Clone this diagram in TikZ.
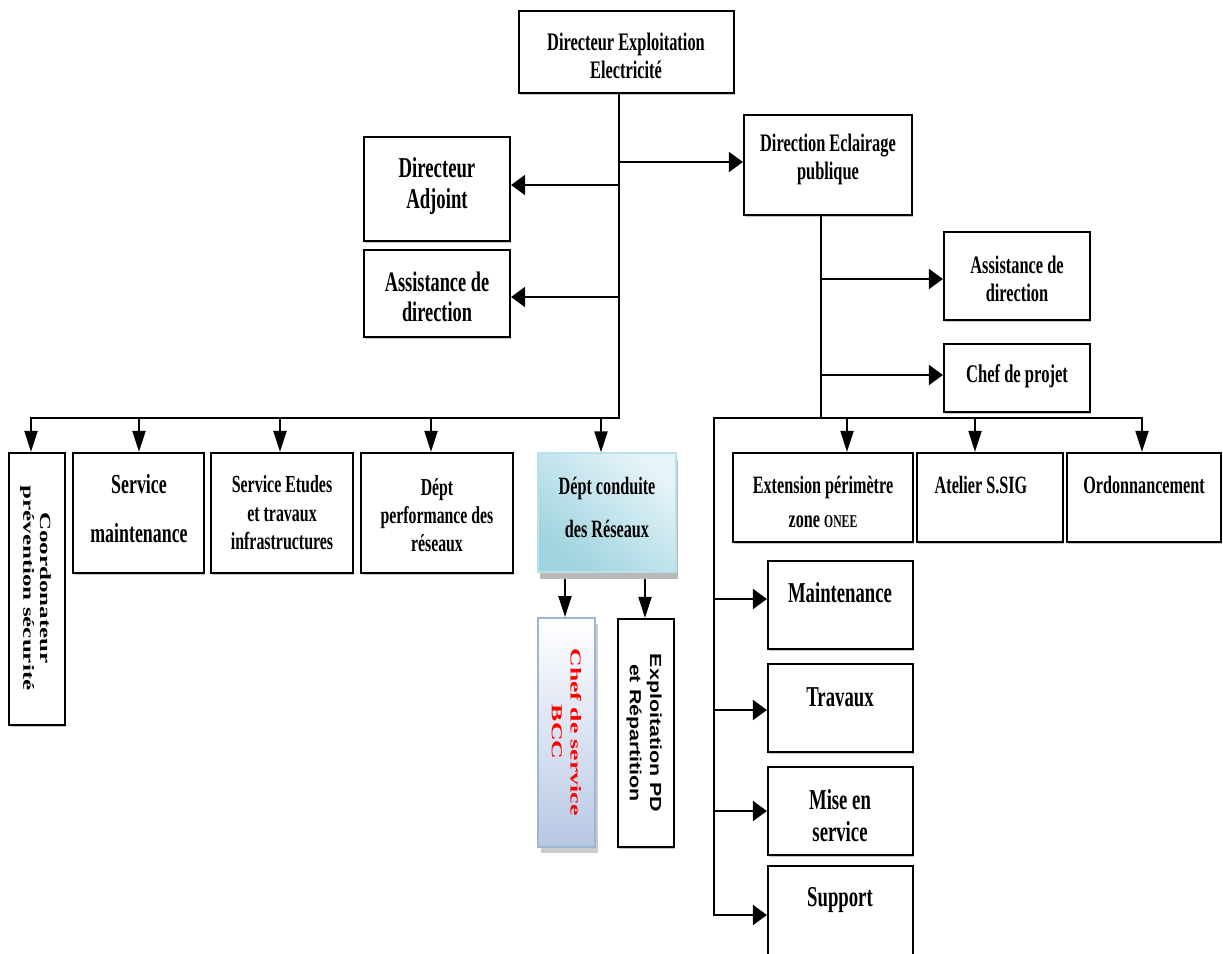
\documentclass[tikz,border=0pt]{standalone}
\usepackage{fontspec}
\usepackage{graphicx}
\usetikzlibrary{arrows.meta,shadows}
\newfontfamily\tnr[FakeStretch=0.65]{Liberation Serif}
\newfontfamily\tnrv{Liberation Serif}
\newfontfamily\arl{Liberation Sans}
\newcommand\fz[2]{\fontsize{#1}{#2}\selectfont}
\definecolor{condin}{HTML}{E6F4F8}
\definecolor{condout}{HTML}{9ED3DF}
\definecolor{bccbot}{HTML}{B7C8E4}
\definecolor{bccdraw}{HTML}{9DB6D8}
\begin{document}
\begin{tikzpicture}[x=1pt,y=-1pt,
  box/.style={draw=black, line width=2.2pt, fill=white, inner sep=0pt,
    drop shadow={shadow xshift=1pt, shadow yshift=-2pt, fill=gray!45, opacity=1}},
  txt/.style={align=center, inner sep=0pt, text=black},
  ln/.style={line width=2pt, draw=black},
  harr/.style={ln, -{Triangle[length=14pt,width=20pt]}},
  varr/.style={ln, -{Triangle[length=21pt,width=13pt]}}]
\useasboundingbox (0,0) rectangle (1223,953);
\clip (0,0) rectangle (1223,953);
\fill[white] (0,0) rectangle (1223,953);

% ---------- boxes ----------
\node[box, minimum width=215pt, minimum height=82pt] (top) at (626.5,52) {};
\node[box, minimum width=146pt, minimum height=104pt] (adj) at (437,189) {};
\node[box, minimum width=146pt, minimum height=87pt] (asl) at (437,293.5) {};
\node[box, minimum width=168pt, minimum height=100pt] (dir) at (828,165) {};
\node[box, minimum width=146pt, minimum height=88pt] (asr) at (1017,276) {};
\node[box, minimum width=146pt, minimum height=68pt] (chef) at (1017,378) {};
\node[box, minimum width=56pt, minimum height=272pt] (coord) at (37,589) {};
\node[box, minimum width=131pt, minimum height=120pt] (smaint) at (138.5,513) {};
\node[box, minimum width=142pt, minimum height=120pt] (setud) at (282,513) {};
\node[box, minimum width=152pt, minimum height=120pt] (dperf) at (437,513) {};
\node[draw=condout!70!white, line width=1.2pt, inner sep=0pt,
  top color=condin, bottom color=condout, shading angle=-40,
  minimum width=138pt, minimum height=119pt,
  drop shadow={shadow xshift=2pt, shadow yshift=-7pt, fill=gray!55, opacity=1}] (dcond) at (607,512.5) {};
\node[draw=bccdraw, line width=2pt, inner sep=0pt, top color=white, bottom color=bccbot,
  minimum width=57pt, minimum height=229pt,
  drop shadow={shadow xshift=3pt, shadow yshift=-6pt, fill=gray!40, opacity=1}] (bcc) at (566.5,732.5) {};
\node[box, minimum width=56pt, minimum height=228pt] (expl) at (646,733) {};
\node[box, minimum width=180pt, minimum height=89pt] (ext) at (823,497.5) {};
\node[box, minimum width=146pt, minimum height=89pt] (atel) at (990,497.5) {};
\node[box, minimum width=154pt, minimum height=89pt] (ordo) at (1144,497.5) {};
\node[box, minimum width=145pt, minimum height=88pt] (maint) at (840.5,605) {};
\node[box, minimum width=145pt, minimum height=88pt] (trav) at (840.5,708) {};
\node[box, minimum width=145pt, minimum height=88pt] (mise) at (840.5,811) {};
\node[box, minimum width=145pt, minimum height=104pt] (supp) at (840.5,918) {};

% ---------- texts ----------
\node[txt, font=\tnr\bfseries\fz{25.2}{28}] (top-t) at (626,56) {Directeur Exploitation\\Electricité};
\node[txt, font=\tnr\bfseries\fz{28.8}{31}] (adj-t) at (437,186) {Directeur\\Adjoint};
\node[txt, font=\tnr\bfseries\fz{28.2}{30}] (asl-t) at (437,297) {Assistance de\\direction};
\node[txt, font=\tnr\bfseries\fz{25.2}{28}] (dir-t) at (828,159) {Direction Eclairage\\publique};
\node[txt, font=\tnr\bfseries\fz{25.2}{28}] (asr-t) at (1017,279) {Assistance de\\direction};
\node[txt, font=\tnr\bfseries\fz{25.5}{28}] (chef-t) at (1017,376) {Chef de projet};
\node[txt, rotate=-90] (coord-t) at (35,588) {\scalebox{1}[0.62]{\tnrv\bfseries\fz{25}{27}\begin{tabular}{@{}c@{}}Coordonateur\\prévention sécurité\end{tabular}}};
\node[txt, font=\tnr\bfseries\fz{27.5}{49}] (smaint-t) at (139,509) {Service\\maintenance};
\node[txt, font=\tnr\bfseries\fz{24.5}{28.5}] (setud-t) at (282,513) {Service Etudes\\et travaux\\infrastructures};
\node[txt, font=\tnr\bfseries\fz{24.3}{28}] (dperf-t) at (437,515) {Dépt\\performance des\\réseaux};
\node[txt, font=\tnr\bfseries\fz{24.9}{43}] (dcond-t) at (607,507) {Dépt conduite\\des Réseaux};
\node[txt, rotate=-90] (bcc-t) at (565,732) {\scalebox{1}[0.59]{\tnrv\bfseries\fz{25.7}{32}\color{red}\begin{tabular}{@{}c@{}}Chef de service\\BCC\end{tabular}}};
\node[txt, rotate=-90] (expl-t) at (644,733) {\scalebox{1}[0.75]{\arl\bfseries\fz{21.4}{27}\begin{tabular}{@{}c@{}}Exploitation PD\\et Répartition\end{tabular}}};
\node[txt, font=\tnr\bfseries\fz{24.9}{34}] (ext-t) at (823,502) {Extension périmètre\\zone {\fz{18}{18}ONEE}};
\node[txt, font=\tnr\bfseries\fz{24.9}{28}] (atel-t) at (981,485) {Atelier S.SIG};
\node[txt, font=\tnr\bfseries\fz{24.9}{28}] (ordo-t) at (1144,485) {Ordonnancement};
\node[txt, font=\tnr\bfseries\fz{28.8}{32}] (maint-t) at (840,593) {Maintenance};
\node[txt, font=\tnr\bfseries\fz{28.8}{32}] (trav-t) at (840,697) {Travaux};
\node[txt, font=\tnr\bfseries\fz{28.8}{32}] (mise-t) at (840,816) {Mise en\\service};
\node[txt, font=\tnr\bfseries\fz{28.8}{32}] (supp-t) at (840,900) {Support};

% ---------- connectors (left part) ----------
\coordinate (bus) at (619,418);
\coordinate (bl) at (31,418);
\draw[ln] (top.south -| bus) -- (bus);
\coordinate (jdir) at (619,162);
\coordinate (jadj) at (619,185);
\coordinate (jasl) at (619,297);
\draw[harr] (jdir) -- (jdir -| dir.west);
\draw[harr] (jadj) -- (jadj -| adj.east);
\draw[harr] (jasl) -- (jasl -| asl.east);
\draw[ln, line cap=rect] (bl) -- (bus);
\coordinate (b2) at (139,418);
\coordinate (b3) at (280,418);
\coordinate (b4) at (431,418);
\coordinate (b5) at (601,418);
\draw[varr] (bl) -- (bl |- coord.north);
\draw[varr] (b2) -- (b2 |- smaint.north);
\draw[varr] (b3) -- (b3 |- setud.north);
\draw[varr] (b4) -- (b4 |- dperf.north);
\draw[varr] (b5) -- (b5 |- dcond.north);
\coordinate (c1) at (565,579);
\coordinate (c2) at (645,579);
\draw[varr] (c1) -- (c1 |- bcc.north);
\draw[varr] (c2) -- (c2 |- expl.north);

% ---------- connectors (right part) ----------
\coordinate (rt) at (821,418);
\draw[ln] (dir.south -| rt) -- (rt);
\coordinate (ja) at (821,279);
\coordinate (jc) at (821,375);
\draw[harr] (ja) -- (ja -| asr.west);
\draw[harr] (jc) -- (jc -| chef.west);
\coordinate (rbl) at (714,418);
\coordinate (rbr) at (1142,418);
\draw[ln, line cap=rect] (rbl) -- (rbr);
\coordinate (r1) at (847,418);
\coordinate (r2) at (975,418);
\draw[varr] (r1) -- (r1 |- ext.north);
\draw[varr] (r2) -- (r2 |- atel.north);
\draw[varr] (rbr) -- (rbr |- ordo.north);
\coordinate (vb) at (714,915);
\draw[ln, line cap=rect] (rbl) -- (vb);
\coordinate (m1) at (714,599);
\coordinate (m2) at (714,710);
\coordinate (m3) at (714,811);
\draw[harr] (m1) -- (m1 -| maint.west);
\draw[harr] (m2) -- (m2 -| trav.west);
\draw[harr] (m3) -- (m3 -| mise.west);
\draw[harr] (vb) -- (vb -| supp.west);
\end{tikzpicture}
\end{document}
